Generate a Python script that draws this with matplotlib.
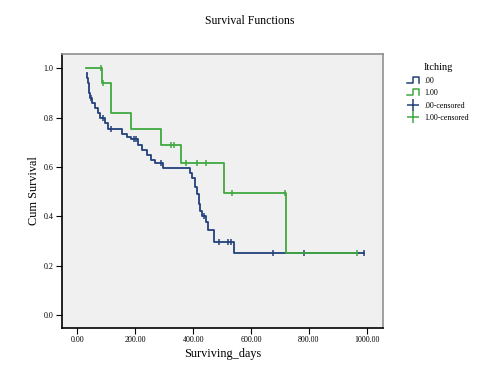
import matplotlib
matplotlib.use('Agg')
import matplotlib.pyplot as plt
from matplotlib.lines import Line2D
from matplotlib.legend_handler import HandlerBase
import numpy as np

# group .00 (event times / survival after each step, censored times)
b_times = [32, 34, 36, 39, 42, 45, 52, 62, 70, 80, 95, 105, 155, 170, 185,
           210, 225, 240, 255, 270, 296, 389, 395, 405, 412, 420, 425, 432,
           445, 453, 473, 540]
b_surv  = [0.98, 0.96, 0.94, 0.92, 0.90, 0.88, 0.86, 0.84, 0.82, 0.80, 0.78,
           0.755, 0.735, 0.722, 0.712, 0.69, 0.67, 0.65, 0.63, 0.615, 0.595,
           0.575, 0.555, 0.52, 0.49, 0.45, 0.42, 0.40, 0.375, 0.345, 0.297,
           0.252]
b_cens  = [48, 88, 116, 196, 203, 290, 437, 490, 520, 530, 675, 783, 990]

# group 1.00
g_times = [29, 84, 115, 185, 289, 357, 507, 720]
g_surv  = [1.0, 0.94, 0.818, 0.754, 0.689, 0.615, 0.493, 0.25]
g_cens  = [81, 89, 324, 335, 374, 412, 445, 533, 718, 965]

xticks = [0, 200, 400, 600, 800, 1000]
yticks = [0.0, 0.2, 0.4, 0.6, 0.8, 1.0]

blue  = '#22407a'
green = '#40a840'
serif = ['Liberation Serif', 'DejaVu Serif']

def surv_at(t, times, surv):
    s = surv[0]
    for tt, ss in zip(times, surv):
        if tt <= t:
            s = ss
    return s

fig = plt.figure(figsize=(5.0, 3.87), dpi=100)
fig.patch.set_facecolor('white')
ax = fig.add_axes([0.124, 0.1525, 0.642, 0.708])
ax.set_facecolor('#f0f0f0')

for times, surv, cens, col in [(b_times, b_surv, b_cens, blue),
                               (g_times, g_surv, g_cens, green)]:
    end = max(cens[-1], times[-1])
    ax.step(times + [end], surv + [surv[-1]], where='post', color=col, lw=1.3)
    cy = [surv_at(t, times, surv) for t in cens]
    ax.plot(cens, cy, ls='none', marker='|', ms=5, mew=1.1, color=col)

ax.set_xlim(-53, 1056)
ax.set_ylim(-0.053, 1.058)
ax.set_xticks(xticks)
ax.set_xticklabels(['%.2f' % x for x in xticks])
ax.set_yticks(yticks)
ax.set_yticklabels(['%.1f' % y for y in yticks])
ax.tick_params(direction='out', length=4, width=0.8, labelsize=5.8, pad=2)
for lab in ax.get_xticklabels() + ax.get_yticklabels():
    lab.set_family(serif)

ax.spines['left'].set_color('black')
ax.spines['bottom'].set_color('black')
ax.spines['top'].set_color('#909090')
ax.spines['right'].set_color('#909090')
for s in ax.spines.values():
    s.set_linewidth(1.2)

ax.set_xlabel('Surviving_days', family=serif, fontsize=8.8, labelpad=3)
ax.set_ylabel('Cum Survival', family=serif, fontsize=8.8, labelpad=3)
fig.text(0.5, 1 - 21 / 387, 'Survival Functions', family=serif, fontsize=8.5,
         ha='center', va='center')


class StepHandler(HandlerBase):
    def create_artists(self, legend, orig, xd, yd, w, h, fontsize, trans):
        xs = [0, 0.45 * w, 0.45 * w, w, w]
        ys = [-0.05 * h, -0.05 * h, 1.05 * h, 1.05 * h, -0.05 * h]
        ln = Line2D([x - xd for x in xs], [y - yd for y in ys],
                    color=orig.get_color(), lw=1.1, transform=trans)
        return [ln]


handles = [Line2D([], [], color=blue), Line2D([], [], color=green),
           Line2D([], [], ls='none', marker='+', ms=8, mew=1.1, color=blue),
           Line2D([], [], ls='none', marker='+', ms=8, mew=1.1, color=green)]
labels = ['.00', '1.00', '.00-censored', '1.00-censored']
leg = fig.legend(handles, labels, loc='upper left',
                 bbox_to_anchor=(404 / 500, 1 - 60 / 387), frameon=False,
                 title='Itching', prop={'family': serif, 'size': 5.8},
                 handlelength=1.5, handletextpad=0.6, labelspacing=0.55,
                 borderaxespad=0,
                 handler_map={handles[0]: StepHandler(),
                              handles[1]: StepHandler()})
leg.get_title().set_family(serif)
leg.get_title().set_fontsize(7.5)

fig.savefig('out.png', dpi=100)
